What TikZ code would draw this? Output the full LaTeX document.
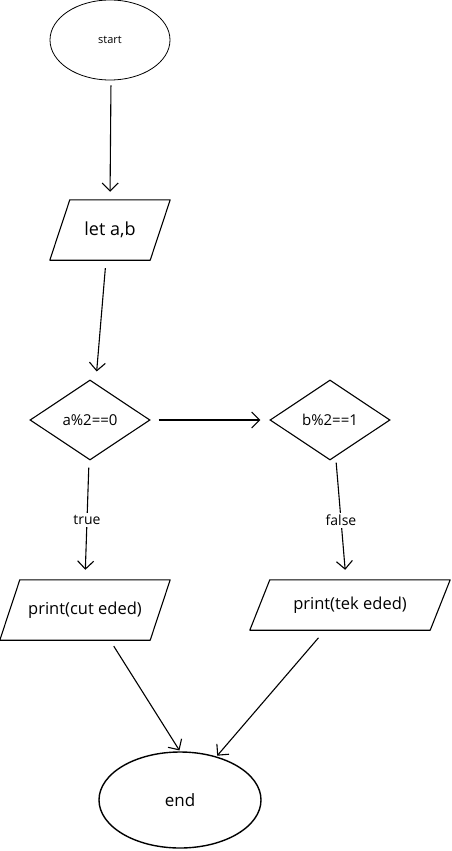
\documentclass[tikz,border=0pt]{standalone}
\usepackage{fontspec}
\setmainfont{Open Sans}
\usetikzlibrary{shapes.geometric,arrows.meta}
\tikzset{
  base/.style={draw=black,line width=1.1pt,inner sep=0pt},
  term/.style={base,ellipse},
  iobox/.style={inner sep=0pt,rectangle},
  para/.style={draw=black,line width=1.1pt,line join=round},
  decision/.style={base,diamond},
  conn/.style={line width=1.1pt,-{Straight Barb[length=8pt,width=16pt,line width=1.1pt]}},
  lbl/.style={fill=white,inner sep=2pt,font=\fontsize{14}{16}\selectfont}
}
\begin{document}
\begin{tikzpicture}[x=1pt,y=-1pt]
\useasboundingbox (0,0) rectangle (451,851);
\node[term,line width=0.8pt,minimum width=120pt,minimum height=80pt,font=\fontsize{11}{13}\selectfont] (start) at (110,40) {start};
\node[iobox,minimum width=120pt,minimum height=60pt,font=\fontsize{18}{20}\selectfont] (let) at (110,230) {let a,b};
\node[decision,minimum width=120pt,minimum height=80pt,font=\fontsize{15}{17}\selectfont] (a) at (90,420) {a\%2==0};
\node[decision,minimum width=120pt,minimum height=80pt,font=\fontsize{15}{17}\selectfont] (b) at (330,420) {b\%2==1};
\node[iobox,minimum width=170pt,minimum height=60pt,font=\fontsize{16.5}{19}\selectfont] (cut) at (85,610) {print(cut eded)};
\node[iobox,minimum width=200pt,minimum height=50pt,font=\fontsize{16.5}{19}\selectfont] (tek) at (350,605) {print(tek eded)};
\node[term,line width=1.4pt,minimum width=162pt,minimum height=96pt,font=\fontsize{17}{19}\selectfont] (end) at (180,800) {end};

\draw[para] ([xshift=20pt]let.north west) -- (let.north east) -- ([xshift=-20pt]let.south east) -- (let.south west) -- cycle;
\draw[para] ([xshift=20pt]cut.north west) -- (cut.north east) -- ([xshift=-20pt]cut.south east) -- (cut.south west) -- cycle;
\draw[para] ([xshift=20pt]tek.north west) -- (tek.north east) -- ([xshift=-20pt]tek.south east) -- (tek.south west) -- cycle;

\draw[conn,shorten <=5pt,shorten >=8pt] ([xshift=1pt]start.south) -- (let.north);
\draw[conn,shorten <=8pt,shorten >=8pt] ([xshift=-4pt]let.south) -- ([xshift=6pt]a.north);
\draw[conn,shorten <=8pt,shorten >=9pt] (a.east) -- (b.west);
\draw[conn,shorten <=7pt,shorten >=10pt] ([xshift=-1pt]a.south) -- node[lbl,pos=0.5] {true} (cut.north);
\draw[conn,shorten <=2pt,shorten >=10pt] ([xshift=6pt]b.south) -- node[lbl,pos=0.5] {false} ([xshift=-4pt]tek.north);
\draw[conn,shorten <=7pt,shorten >=1pt] ([xshift=25pt]cut.south) -- (end.north);
\draw[conn,shorten <=10pt,shorten >=1pt] ([xshift=-25pt]tek.south) -- (end.50);
\end{tikzpicture}
\end{document}
